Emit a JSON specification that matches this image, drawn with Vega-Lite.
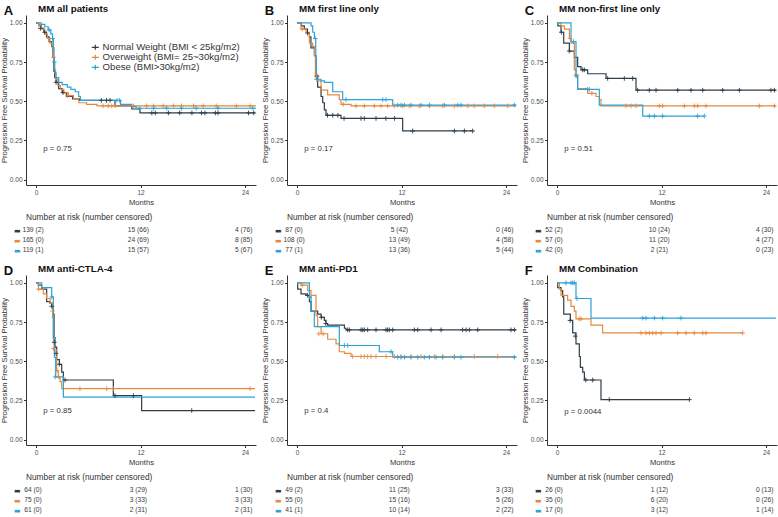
{
"$schema":"https://vega.github.io/schema/vega-lite/v6.json",
"padding":{"left":0,"top":4,"right":0,"bottom":0},
"config":{"font":"Liberation Sans","view":{"stroke":null},
"axis":{"labelFontSize":6.5,"labelColor":"#4d4d4d","titleFontSize":7.6,"titleFontWeight":"normal","titleColor":"#333","domainColor":"#333","tickColor":"#333","tickSize":2.5,"grid":false,"labelPadding":1.5},
"axisY":{"titlePadding":0.5},"axisX":{"titlePadding":2.5},
"title":{"fontSize":9.8,"fontWeight":"bold","anchor":"start","color":"#111"}},
"datasets":{
"km":[
{"p":"A","g":"N","t":0,"s":1},{"p":"A","g":"N","t":0.3,"s":0.985},{"p":"A","g":"N","t":0.6,"s":0.965},{"p":"A","g":"N","t":0.9,"s":0.94},{"p":"A","g":"N","t":1.2,"s":0.91},{"p":"A","g":"N","t":1.5,"s":0.88},{"p":"A","g":"N","t":1.8,"s":0.85},{"p":"A","g":"N","t":1.95,"s":0.78},{"p":"A","g":"N","t":2.05,"s":0.69},{"p":"A","g":"N","t":2.15,"s":0.65},{"p":"A","g":"N","t":2.3,"s":0.62},{"p":"A","g":"N","t":2.6,"s":0.58},{"p":"A","g":"N","t":3.0,"s":0.555},{"p":"A","g":"N","t":3.5,"s":0.53},{"p":"A","g":"N","t":4.2,"s":0.515},{"p":"A","g":"N","t":5.0,"s":0.505},{"p":"A","g":"N","t":9.07,"s":0.47},{"p":"A","g":"N","t":11.0,"s":0.45},{"p":"A","g":"N","t":11.94,"s":0.425},{"p":"A","g":"N","t":25.15,"s":0.425},
{"p":"A","g":"O","t":0,"s":1},{"p":"A","g":"O","t":0.3,"s":0.98},{"p":"A","g":"O","t":0.6,"s":0.96},{"p":"A","g":"O","t":1.0,"s":0.93},{"p":"A","g":"O","t":1.3,"s":0.9},{"p":"A","g":"O","t":1.6,"s":0.87},{"p":"A","g":"O","t":1.85,"s":0.84},{"p":"A","g":"O","t":2.0,"s":0.78},{"p":"A","g":"O","t":2.1,"s":0.7},{"p":"A","g":"O","t":2.25,"s":0.64},{"p":"A","g":"O","t":2.5,"s":0.6},{"p":"A","g":"O","t":2.8,"s":0.575},{"p":"A","g":"O","t":3.2,"s":0.555},{"p":"A","g":"O","t":3.7,"s":0.535},{"p":"A","g":"O","t":4.3,"s":0.515},{"p":"A","g":"O","t":4.9,"s":0.49},{"p":"A","g":"O","t":5.8,"s":0.48},{"p":"A","g":"O","t":7.0,"s":0.47},{"p":"A","g":"O","t":25.25,"s":0.47},
{"p":"A","g":"B","t":0,"s":1},{"p":"A","g":"B","t":0.6,"s":0.99},{"p":"A","g":"B","t":1.0,"s":0.975},{"p":"A","g":"B","t":1.4,"s":0.955},{"p":"A","g":"B","t":1.7,"s":0.93},{"p":"A","g":"B","t":1.9,"s":0.9},{"p":"A","g":"B","t":2.0,"s":0.84},{"p":"A","g":"B","t":2.07,"s":0.75},{"p":"A","g":"B","t":2.15,"s":0.68},{"p":"A","g":"B","t":2.3,"s":0.65},{"p":"A","g":"B","t":2.6,"s":0.62},{"p":"A","g":"B","t":3.0,"s":0.605},{"p":"A","g":"B","t":3.6,"s":0.59},{"p":"A","g":"B","t":4.0,"s":0.575},{"p":"A","g":"B","t":4.5,"s":0.56},{"p":"A","g":"B","t":4.9,"s":0.53},{"p":"A","g":"B","t":5.1,"s":0.505},{"p":"A","g":"B","t":9.7,"s":0.48},{"p":"A","g":"B","t":11.0,"s":0.465},{"p":"A","g":"B","t":11.5,"s":0.455},{"p":"A","g":"B","t":25.25,"s":0.455},
{"p":"B","g":"N","t":0,"s":1},{"p":"B","g":"N","t":0.5,"s":0.98},{"p":"B","g":"N","t":0.84,"s":0.96},{"p":"B","g":"N","t":1.2,"s":0.935},{"p":"B","g":"N","t":1.42,"s":0.91},{"p":"B","g":"N","t":1.6,"s":0.84},{"p":"B","g":"N","t":2.0,"s":0.79},{"p":"B","g":"N","t":2.18,"s":0.66},{"p":"B","g":"N","t":2.37,"s":0.59},{"p":"B","g":"N","t":2.76,"s":0.53},{"p":"B","g":"N","t":2.95,"s":0.49},{"p":"B","g":"N","t":3.14,"s":0.445},{"p":"B","g":"N","t":3.33,"s":0.41},{"p":"B","g":"N","t":5.05,"s":0.39},{"p":"B","g":"N","t":12.13,"s":0.31},{"p":"B","g":"N","t":20.2,"s":0.31},
{"p":"B","g":"O","t":0,"s":1},{"p":"B","g":"O","t":0.46,"s":0.96},{"p":"B","g":"O","t":1.03,"s":0.94},{"p":"B","g":"O","t":1.42,"s":0.87},{"p":"B","g":"O","t":1.8,"s":0.85},{"p":"B","g":"O","t":2.0,"s":0.79},{"p":"B","g":"O","t":2.11,"s":0.66},{"p":"B","g":"O","t":2.37,"s":0.63},{"p":"B","g":"O","t":2.76,"s":0.57},{"p":"B","g":"O","t":3.52,"s":0.54},{"p":"B","g":"O","t":4.86,"s":0.51},{"p":"B","g":"O","t":5.05,"s":0.48},{"p":"B","g":"O","t":6.2,"s":0.47},{"p":"B","g":"O","t":25.15,"s":0.47},
{"p":"B","g":"B","t":0,"s":1},{"p":"B","g":"B","t":1.61,"s":0.98},{"p":"B","g":"B","t":1.8,"s":0.94},{"p":"B","g":"B","t":1.99,"s":0.9},{"p":"B","g":"B","t":2.15,"s":0.79},{"p":"B","g":"B","t":2.22,"s":0.64},{"p":"B","g":"B","t":2.76,"s":0.63},{"p":"B","g":"B","t":3.14,"s":0.62},{"p":"B","g":"B","t":4.1,"s":0.56},{"p":"B","g":"B","t":5.24,"s":0.51},{"p":"B","g":"B","t":10.99,"s":0.475},{"p":"B","g":"B","t":25.15,"s":0.475},
{"p":"C","g":"N","t":0,"s":1},{"p":"C","g":"N","t":0.1,"s":0.98},{"p":"C","g":"N","t":0.46,"s":0.94},{"p":"C","g":"N","t":0.77,"s":0.87},{"p":"C","g":"N","t":1.42,"s":0.82},{"p":"C","g":"N","t":1.99,"s":0.78},{"p":"C","g":"N","t":2.37,"s":0.72},{"p":"C","g":"N","t":2.76,"s":0.7},{"p":"C","g":"N","t":3.52,"s":0.675},{"p":"C","g":"N","t":5.63,"s":0.645},{"p":"C","g":"N","t":9.07,"s":0.57},{"p":"C","g":"N","t":25.15,"s":0.57},
{"p":"C","g":"O","t":0,"s":1},{"p":"C","g":"O","t":0.46,"s":0.98},{"p":"C","g":"O","t":0.84,"s":0.96},{"p":"C","g":"O","t":1.42,"s":0.9},{"p":"C","g":"O","t":1.61,"s":0.87},{"p":"C","g":"O","t":1.99,"s":0.7},{"p":"C","g":"O","t":2.18,"s":0.67},{"p":"C","g":"O","t":2.37,"s":0.58},{"p":"C","g":"O","t":3.52,"s":0.55},{"p":"C","g":"O","t":4.48,"s":0.53},{"p":"C","g":"O","t":4.86,"s":0.51},{"p":"C","g":"O","t":5.05,"s":0.47},{"p":"C","g":"O","t":25.15,"s":0.47},
{"p":"C","g":"B","t":0,"s":1},{"p":"C","g":"B","t":1.61,"s":0.88},{"p":"C","g":"B","t":2.18,"s":0.66},{"p":"C","g":"B","t":2.37,"s":0.575},{"p":"C","g":"B","t":4.86,"s":0.475},{"p":"C","g":"B","t":9.84,"s":0.405},{"p":"C","g":"B","t":16.92,"s":0.405},
{"p":"D","g":"N","t":0,"s":1},{"p":"D","g":"N","t":0.27,"s":0.985},{"p":"D","g":"N","t":0.65,"s":0.96},{"p":"D","g":"N","t":1.22,"s":0.88},{"p":"D","g":"N","t":1.61,"s":0.87},{"p":"D","g":"N","t":1.8,"s":0.85},{"p":"D","g":"N","t":1.99,"s":0.8},{"p":"D","g":"N","t":2.07,"s":0.65},{"p":"D","g":"N","t":2.18,"s":0.59},{"p":"D","g":"N","t":2.37,"s":0.51},{"p":"D","g":"N","t":2.68,"s":0.48},{"p":"D","g":"N","t":2.95,"s":0.43},{"p":"D","g":"N","t":3.14,"s":0.38},{"p":"D","g":"N","t":8.88,"s":0.28},{"p":"D","g":"N","t":12.13,"s":0.185},{"p":"D","g":"N","t":25.15,"s":0.185},
{"p":"D","g":"O","t":0,"s":1},{"p":"D","g":"O","t":0.27,"s":0.96},{"p":"D","g":"O","t":0.84,"s":0.93},{"p":"D","g":"O","t":1.22,"s":0.9},{"p":"D","g":"O","t":1.61,"s":0.87},{"p":"D","g":"O","t":1.91,"s":0.78},{"p":"D","g":"O","t":1.99,"s":0.63},{"p":"D","g":"O","t":2.11,"s":0.57},{"p":"D","g":"O","t":2.37,"s":0.44},{"p":"D","g":"O","t":2.56,"s":0.4},{"p":"D","g":"O","t":2.76,"s":0.37},{"p":"D","g":"O","t":2.95,"s":0.325},{"p":"D","g":"O","t":25.15,"s":0.325},
{"p":"D","g":"B","t":0,"s":1},{"p":"D","g":"B","t":0.65,"s":0.97},{"p":"D","g":"B","t":1.8,"s":0.91},{"p":"D","g":"B","t":1.99,"s":0.65},{"p":"D","g":"B","t":2.11,"s":0.525},{"p":"D","g":"B","t":2.26,"s":0.4},{"p":"D","g":"B","t":3.14,"s":0.27},{"p":"D","g":"B","t":25.15,"s":0.27},
{"p":"E","g":"N","t":0,"s":1},{"p":"E","g":"N","t":0.08,"s":0.96},{"p":"E","g":"N","t":0.46,"s":0.93},{"p":"E","g":"N","t":1.03,"s":0.92},{"p":"E","g":"N","t":1.42,"s":0.88},{"p":"E","g":"N","t":1.61,"s":0.82},{"p":"E","g":"N","t":2.37,"s":0.8},{"p":"E","g":"N","t":2.76,"s":0.78},{"p":"E","g":"N","t":3.14,"s":0.76},{"p":"E","g":"N","t":3.33,"s":0.74},{"p":"E","g":"N","t":3.52,"s":0.73},{"p":"E","g":"N","t":5.44,"s":0.71},{"p":"E","g":"N","t":5.63,"s":0.7},{"p":"E","g":"N","t":25.15,"s":0.7},
{"p":"E","g":"O","t":0,"s":1},{"p":"E","g":"O","t":0.46,"s":0.985},{"p":"E","g":"O","t":1.22,"s":0.95},{"p":"E","g":"O","t":1.61,"s":0.92},{"p":"E","g":"O","t":2.18,"s":0.79},{"p":"E","g":"O","t":2.37,"s":0.72},{"p":"E","g":"O","t":2.76,"s":0.675},{"p":"E","g":"O","t":3.52,"s":0.64},{"p":"E","g":"O","t":4.48,"s":0.61},{"p":"E","g":"O","t":4.86,"s":0.56},{"p":"E","g":"O","t":5.44,"s":0.55},{"p":"E","g":"O","t":6.2,"s":0.53},{"p":"E","g":"O","t":25.15,"s":0.53},
{"p":"E","g":"B","t":0,"s":1},{"p":"E","g":"B","t":1.42,"s":0.91},{"p":"E","g":"B","t":1.61,"s":0.82},{"p":"E","g":"B","t":1.99,"s":0.72},{"p":"E","g":"B","t":4.86,"s":0.6},{"p":"E","g":"B","t":9.45,"s":0.56},{"p":"E","g":"B","t":10.99,"s":0.525},{"p":"E","g":"B","t":25.15,"s":0.525},
{"p":"F","g":"N","t":0,"s":1},{"p":"F","g":"N","t":0.08,"s":0.97},{"p":"F","g":"N","t":0.46,"s":0.95},{"p":"F","g":"N","t":0.65,"s":0.91},{"p":"F","g":"N","t":0.77,"s":0.8},{"p":"F","g":"N","t":1.53,"s":0.76},{"p":"F","g":"N","t":1.8,"s":0.68},{"p":"F","g":"N","t":2.18,"s":0.61},{"p":"F","g":"N","t":2.56,"s":0.53},{"p":"F","g":"N","t":2.68,"s":0.46},{"p":"F","g":"N","t":2.95,"s":0.43},{"p":"F","g":"N","t":3.14,"s":0.38},{"p":"F","g":"N","t":5.05,"s":0.255},{"p":"F","g":"N","t":15.2,"s":0.255},
{"p":"F","g":"O","t":0,"s":1},{"p":"F","g":"O","t":0.27,"s":0.96},{"p":"F","g":"O","t":0.46,"s":0.92},{"p":"F","g":"O","t":1.22,"s":0.89},{"p":"F","g":"O","t":1.61,"s":0.85},{"p":"F","g":"O","t":1.99,"s":0.82},{"p":"F","g":"O","t":2.18,"s":0.77},{"p":"F","g":"O","t":3.9,"s":0.73},{"p":"F","g":"O","t":5.24,"s":0.68},{"p":"F","g":"O","t":21.32,"s":0.68},
{"p":"F","g":"B","t":0,"s":1},{"p":"F","g":"B","t":2.18,"s":0.9},{"p":"F","g":"B","t":3.9,"s":0.775},{"p":"F","g":"B","t":25.15,"s":0.775}
],
"cens":[
{"p":"A","g":"N","t":0.5,"s":0.965},{"p":"A","g":"N","t":1.0,"s":0.94},{"p":"A","g":"N","t":2.3,"s":0.62},{"p":"A","g":"N","t":3.1,"s":0.555},{"p":"A","g":"N","t":7.5,"s":0.505},{"p":"A","g":"N","t":8.1,"s":0.505},{"p":"A","g":"N","t":8.5,"s":0.505},{"p":"A","g":"N","t":13.3,"s":0.425},{"p":"A","g":"N","t":13.7,"s":0.425},{"p":"A","g":"N","t":15.2,"s":0.425},{"p":"A","g":"N","t":16.5,"s":0.425},{"p":"A","g":"N","t":17.9,"s":0.425},{"p":"A","g":"N","t":19.0,"s":0.425},{"p":"A","g":"N","t":19.4,"s":0.425},{"p":"A","g":"N","t":20.6,"s":0.425},{"p":"A","g":"N","t":20.9,"s":0.425},{"p":"A","g":"N","t":24.4,"s":0.425},{"p":"A","g":"N","t":25.0,"s":0.425},
{"p":"A","g":"O","t":2.0,"s":0.78},{"p":"A","g":"O","t":3.6,"s":0.535},{"p":"A","g":"O","t":7.7,"s":0.47},{"p":"A","g":"O","t":8.3,"s":0.47},{"p":"A","g":"O","t":8.7,"s":0.47},{"p":"A","g":"O","t":9.1,"s":0.47},{"p":"A","g":"O","t":11.2,"s":0.47},{"p":"A","g":"O","t":12.7,"s":0.47},{"p":"A","g":"O","t":13.5,"s":0.47},{"p":"A","g":"O","t":14.6,"s":0.47},{"p":"A","g":"O","t":15.8,"s":0.47},{"p":"A","g":"O","t":16.7,"s":0.47},{"p":"A","g":"O","t":18.1,"s":0.47},{"p":"A","g":"O","t":19.2,"s":0.47},{"p":"A","g":"O","t":20.7,"s":0.47},{"p":"A","g":"O","t":23.0,"s":0.47},{"p":"A","g":"O","t":24.6,"s":0.47},
{"p":"A","g":"B","t":1.5,"s":0.955},{"p":"A","g":"B","t":1.9,"s":0.9},{"p":"A","g":"B","t":2.1,"s":0.75},{"p":"A","g":"B","t":9.3,"s":0.505},{"p":"A","g":"B","t":9.6,"s":0.505},{"p":"A","g":"B","t":11.9,"s":0.455},{"p":"A","g":"B","t":13.5,"s":0.455},{"p":"A","g":"B","t":15.0,"s":0.455},{"p":"A","g":"B","t":16.7,"s":0.455},{"p":"A","g":"B","t":18.4,"s":0.455},{"p":"A","g":"B","t":20.9,"s":0.455},{"p":"A","g":"B","t":24.9,"s":0.455},
{"p":"B","g":"N","t":1.2,"s":0.935},{"p":"B","g":"N","t":2.3,"s":0.66},{"p":"B","g":"N","t":3.5,"s":0.41},{"p":"B","g":"N","t":4.1,"s":0.41},{"p":"B","g":"N","t":4.7,"s":0.41},{"p":"B","g":"N","t":5.4,"s":0.39},{"p":"B","g":"N","t":7.35,"s":0.39},{"p":"B","g":"N","t":7.73,"s":0.39},{"p":"B","g":"N","t":9.07,"s":0.39},{"p":"B","g":"N","t":10.2,"s":0.39},{"p":"B","g":"N","t":11.2,"s":0.39},{"p":"B","g":"N","t":13.28,"s":0.31},{"p":"B","g":"N","t":18.07,"s":0.31},{"p":"B","g":"N","t":19.22,"s":0.31},{"p":"B","g":"N","t":20.17,"s":0.31},
{"p":"B","g":"O","t":0.6,"s":0.96},{"p":"B","g":"O","t":2.2,"s":0.66},{"p":"B","g":"O","t":5.3,"s":0.48},{"p":"B","g":"O","t":6.78,"s":0.47},{"p":"B","g":"O","t":7.73,"s":0.47},{"p":"B","g":"O","t":8.88,"s":0.47},{"p":"B","g":"O","t":9.65,"s":0.47},{"p":"B","g":"O","t":10.41,"s":0.47},{"p":"B","g":"O","t":11.18,"s":0.47},{"p":"B","g":"O","t":12.13,"s":0.47},{"p":"B","g":"O","t":12.9,"s":0.47},{"p":"B","g":"O","t":14.05,"s":0.47},{"p":"B","g":"O","t":15.2,"s":0.47},{"p":"B","g":"O","t":16.73,"s":0.47},{"p":"B","g":"O","t":18.07,"s":0.47},{"p":"B","g":"O","t":19.6,"s":0.47},{"p":"B","g":"O","t":20.36,"s":0.47},{"p":"B","g":"O","t":21.51,"s":0.47},{"p":"B","g":"O","t":22.66,"s":0.47},{"p":"B","g":"O","t":24.19,"s":0.47},
{"p":"B","g":"B","t":2.1,"s":0.9},{"p":"B","g":"B","t":2.25,"s":0.64},{"p":"B","g":"B","t":5.63,"s":0.51},{"p":"B","g":"B","t":9.84,"s":0.51},{"p":"B","g":"B","t":10.22,"s":0.51},{"p":"B","g":"B","t":11.56,"s":0.475},{"p":"B","g":"B","t":11.94,"s":0.475},{"p":"B","g":"B","t":12.33,"s":0.475},{"p":"B","g":"B","t":13.09,"s":0.475},{"p":"B","g":"B","t":14.24,"s":0.475},{"p":"B","g":"B","t":15.2,"s":0.475},{"p":"B","g":"B","t":16.92,"s":0.475},{"p":"B","g":"B","t":18.45,"s":0.475},{"p":"B","g":"B","t":18.83,"s":0.475},{"p":"B","g":"B","t":24.96,"s":0.475},
{"p":"C","g":"N","t":0.5,"s":0.94},{"p":"C","g":"N","t":1.4,"s":0.82},{"p":"C","g":"N","t":2.95,"s":0.7},{"p":"C","g":"N","t":3.14,"s":0.7},{"p":"C","g":"N","t":5.82,"s":0.645},{"p":"C","g":"N","t":7.73,"s":0.645},{"p":"C","g":"N","t":8.69,"s":0.645},{"p":"C","g":"N","t":9.26,"s":0.57},{"p":"C","g":"N","t":10.6,"s":0.57},{"p":"C","g":"N","t":11.37,"s":0.57},{"p":"C","g":"N","t":13.86,"s":0.57},{"p":"C","g":"N","t":15.39,"s":0.57},{"p":"C","g":"N","t":16.73,"s":0.57},{"p":"C","g":"N","t":19.02,"s":0.57},{"p":"C","g":"N","t":20.94,"s":0.57},{"p":"C","g":"N","t":24.57,"s":0.57},{"p":"C","g":"N","t":24.96,"s":0.57},
{"p":"C","g":"O","t":1.5,"s":0.9},{"p":"C","g":"O","t":2.2,"s":0.67},{"p":"C","g":"O","t":4.0,"s":0.55},{"p":"C","g":"O","t":7.92,"s":0.47},{"p":"C","g":"O","t":8.5,"s":0.47},{"p":"C","g":"O","t":9.07,"s":0.47},{"p":"C","g":"O","t":11.75,"s":0.47},{"p":"C","g":"O","t":12.13,"s":0.47},{"p":"C","g":"O","t":14.62,"s":0.47},{"p":"C","g":"O","t":15.77,"s":0.47},{"p":"C","g":"O","t":16.15,"s":0.47},{"p":"C","g":"O","t":17.11,"s":0.47},{"p":"C","g":"O","t":23.23,"s":0.47},{"p":"C","g":"O","t":24.96,"s":0.47},
{"p":"C","g":"B","t":1.9,"s":0.88},{"p":"C","g":"B","t":2.2,"s":0.66},{"p":"C","g":"B","t":3.5,"s":0.575},{"p":"C","g":"B","t":3.71,"s":0.575},{"p":"C","g":"B","t":10.6,"s":0.405},{"p":"C","g":"B","t":11.18,"s":0.405},{"p":"C","g":"B","t":12.13,"s":0.405},{"p":"C","g":"B","t":16.15,"s":0.405},{"p":"C","g":"B","t":16.92,"s":0.405},
{"p":"D","g":"N","t":1.8,"s":0.85},{"p":"D","g":"N","t":2.1,"s":0.62},{"p":"D","g":"N","t":2.3,"s":0.55},{"p":"D","g":"N","t":2.68,"s":0.48},{"p":"D","g":"N","t":3.33,"s":0.38},{"p":"D","g":"N","t":9.07,"s":0.28},{"p":"D","g":"N","t":11.18,"s":0.28},{"p":"D","g":"N","t":17.88,"s":0.185},
{"p":"D","g":"O","t":0.3,"s":0.96},{"p":"D","g":"O","t":1.9,"s":0.82},{"p":"D","g":"O","t":2.0,"s":0.58},{"p":"D","g":"O","t":2.4,"s":0.44},{"p":"D","g":"O","t":2.6,"s":0.4},{"p":"D","g":"O","t":5.05,"s":0.325},{"p":"D","g":"O","t":8.11,"s":0.325},{"p":"D","g":"O","t":8.88,"s":0.325},{"p":"D","g":"O","t":24.57,"s":0.325},
{"p":"D","g":"B","t":1.8,"s":0.91},{"p":"D","g":"B","t":2.2,"s":0.4},
{"p":"E","g":"N","t":1.2,"s":0.92},{"p":"E","g":"N","t":2.8,"s":0.78},{"p":"E","g":"N","t":3.3,"s":0.74},{"p":"E","g":"N","t":5.82,"s":0.7},{"p":"E","g":"N","t":6.01,"s":0.7},{"p":"E","g":"N","t":7.35,"s":0.7},{"p":"E","g":"N","t":7.54,"s":0.7},{"p":"E","g":"N","t":7.73,"s":0.7},{"p":"E","g":"N","t":8.11,"s":0.7},{"p":"E","g":"N","t":9.07,"s":0.7},{"p":"E","g":"N","t":10.22,"s":0.7},{"p":"E","g":"N","t":10.41,"s":0.7},{"p":"E","g":"N","t":10.6,"s":0.7},{"p":"E","g":"N","t":10.99,"s":0.7},{"p":"E","g":"N","t":13.47,"s":0.7},{"p":"E","g":"N","t":13.86,"s":0.7},{"p":"E","g":"N","t":15.39,"s":0.7},{"p":"E","g":"N","t":16.54,"s":0.7},{"p":"E","g":"N","t":19.02,"s":0.7},{"p":"E","g":"N","t":19.41,"s":0.7},{"p":"E","g":"N","t":19.79,"s":0.7},{"p":"E","g":"N","t":20.75,"s":0.7},{"p":"E","g":"N","t":24.57,"s":0.7},{"p":"E","g":"N","t":24.96,"s":0.7},
{"p":"E","g":"O","t":0.6,"s":0.985},{"p":"E","g":"O","t":2.5,"s":0.675},{"p":"E","g":"O","t":3.0,"s":0.675},{"p":"E","g":"O","t":6.39,"s":0.53},{"p":"E","g":"O","t":7.35,"s":0.53},{"p":"E","g":"O","t":7.73,"s":0.53},{"p":"E","g":"O","t":8.11,"s":0.53},{"p":"E","g":"O","t":8.5,"s":0.53},{"p":"E","g":"O","t":9.07,"s":0.53},{"p":"E","g":"O","t":10.22,"s":0.53},{"p":"E","g":"O","t":11.18,"s":0.53},{"p":"E","g":"O","t":11.94,"s":0.53},{"p":"E","g":"O","t":13.09,"s":0.53},{"p":"E","g":"O","t":14.24,"s":0.53},{"p":"E","g":"O","t":15.77,"s":0.53},{"p":"E","g":"O","t":16.73,"s":0.53},{"p":"E","g":"O","t":18.07,"s":0.53},{"p":"E","g":"O","t":20.36,"s":0.53},{"p":"E","g":"O","t":23.04,"s":0.53},
{"p":"E","g":"B","t":1.45,"s":0.91},{"p":"E","g":"B","t":5.44,"s":0.6},{"p":"E","g":"B","t":5.82,"s":0.6},{"p":"E","g":"B","t":10.79,"s":0.56},{"p":"E","g":"B","t":11.56,"s":0.525},{"p":"E","g":"B","t":11.94,"s":0.525},{"p":"E","g":"B","t":12.33,"s":0.525},{"p":"E","g":"B","t":13.09,"s":0.525},{"p":"E","g":"B","t":13.86,"s":0.525},{"p":"E","g":"B","t":14.62,"s":0.525},{"p":"E","g":"B","t":15.2,"s":0.525},{"p":"E","g":"B","t":15.96,"s":0.525},{"p":"E","g":"B","t":16.73,"s":0.525},{"p":"E","g":"B","t":18.07,"s":0.525},{"p":"E","g":"B","t":18.83,"s":0.525},{"p":"E","g":"B","t":24.96,"s":0.525},
{"p":"F","g":"N","t":1.5,"s":0.76},{"p":"F","g":"N","t":2.1,"s":0.66},{"p":"F","g":"N","t":3.3,"s":0.38},{"p":"F","g":"N","t":4.1,"s":0.38},{"p":"F","g":"N","t":6.0,"s":0.255},{"p":"F","g":"N","t":15.2,"s":0.255},
{"p":"F","g":"O","t":2.56,"s":0.77},{"p":"F","g":"O","t":2.76,"s":0.77},{"p":"F","g":"O","t":9.65,"s":0.68},{"p":"F","g":"O","t":10.22,"s":0.68},{"p":"F","g":"O","t":10.6,"s":0.68},{"p":"F","g":"O","t":10.99,"s":0.68},{"p":"F","g":"O","t":11.37,"s":0.68},{"p":"F","g":"O","t":11.94,"s":0.68},{"p":"F","g":"O","t":13.86,"s":0.68},{"p":"F","g":"O","t":14.81,"s":0.68},{"p":"F","g":"O","t":15.77,"s":0.68},{"p":"F","g":"O","t":16.73,"s":0.68},{"p":"F","g":"O","t":17.11,"s":0.68},{"p":"F","g":"O","t":21.32,"s":0.68},
{"p":"F","g":"B","t":1.03,"s":1},{"p":"F","g":"B","t":1.61,"s":1},{"p":"F","g":"B","t":1.8,"s":1},{"p":"F","g":"B","t":1.99,"s":1},{"p":"F","g":"B","t":2.3,"s":0.9},{"p":"F","g":"B","t":9.84,"s":0.775},{"p":"F","g":"B","t":10.22,"s":0.775},{"p":"F","g":"B","t":11.18,"s":0.775},{"p":"F","g":"B","t":12.13,"s":0.775},{"p":"F","g":"B","t":14.24,"s":0.775}
],
"risk":[
{"p":"A","g":"N","t":0,"r":"139 (2)"},{"p":"A","g":"N","t":12,"r":"15 (66)"},{"p":"A","g":"N","t":24,"r":"4 (76)"},
{"p":"A","g":"O","t":0,"r":"165 (0)"},{"p":"A","g":"O","t":12,"r":"24 (69)"},{"p":"A","g":"O","t":24,"r":"8 (85)"},
{"p":"A","g":"B","t":0,"r":"119 (1)"},{"p":"A","g":"B","t":12,"r":"15 (57)"},{"p":"A","g":"B","t":24,"r":"5 (67)"},
{"p":"B","g":"N","t":0,"r":"87 (0)"},{"p":"B","g":"N","t":12,"r":"5 (42)"},{"p":"B","g":"N","t":24,"r":"0 (46)"},
{"p":"B","g":"O","t":0,"r":"108 (0)"},{"p":"B","g":"O","t":12,"r":"13 (49)"},{"p":"B","g":"O","t":24,"r":"4 (58)"},
{"p":"B","g":"B","t":0,"r":"77 (1)"},{"p":"B","g":"B","t":12,"r":"13 (36)"},{"p":"B","g":"B","t":24,"r":"5 (44)"},
{"p":"C","g":"N","t":0,"r":"52 (2)"},{"p":"C","g":"N","t":12,"r":"10 (24)"},{"p":"C","g":"N","t":24,"r":"4 (30)"},
{"p":"C","g":"O","t":0,"r":"57 (0)"},{"p":"C","g":"O","t":12,"r":"11 (20)"},{"p":"C","g":"O","t":24,"r":"4 (27)"},
{"p":"C","g":"B","t":0,"r":"42 (0)"},{"p":"C","g":"B","t":12,"r":"2 (21)"},{"p":"C","g":"B","t":24,"r":"0 (23)"},
{"p":"D","g":"N","t":0,"r":"64 (0)"},{"p":"D","g":"N","t":12,"r":"3 (29)"},{"p":"D","g":"N","t":24,"r":"1 (30)"},
{"p":"D","g":"O","t":0,"r":"75 (0)"},{"p":"D","g":"O","t":12,"r":"3 (33)"},{"p":"D","g":"O","t":24,"r":"3 (33)"},
{"p":"D","g":"B","t":0,"r":"61 (0)"},{"p":"D","g":"B","t":12,"r":"2 (31)"},{"p":"D","g":"B","t":24,"r":"2 (31)"},
{"p":"E","g":"N","t":0,"r":"49 (2)"},{"p":"E","g":"N","t":12,"r":"11 (25)"},{"p":"E","g":"N","t":24,"r":"3 (33)"},
{"p":"E","g":"O","t":0,"r":"55 (0)"},{"p":"E","g":"O","t":12,"r":"15 (16)"},{"p":"E","g":"O","t":24,"r":"5 (26)"},
{"p":"E","g":"B","t":0,"r":"41 (1)"},{"p":"E","g":"B","t":12,"r":"10 (14)"},{"p":"E","g":"B","t":24,"r":"2 (22)"},
{"p":"F","g":"N","t":0,"r":"26 (0)"},{"p":"F","g":"N","t":12,"r":"1 (12)"},{"p":"F","g":"N","t":24,"r":"0 (13)"},
{"p":"F","g":"O","t":0,"r":"35 (0)"},{"p":"F","g":"O","t":12,"r":"6 (20)"},{"p":"F","g":"O","t":24,"r":"0 (26)"},
{"p":"F","g":"B","t":0,"r":"17 (0)"},{"p":"F","g":"B","t":12,"r":"3 (12)"},{"p":"F","g":"B","t":24,"r":"1 (14)"}
]
},
"columns":3,
"spacing":{"row":9,"column":2},
"concat":[
{"title":{"text":"A","fontSize":13,"frame":"bounds","offset":-13.5,"dx":3},"spacing":6,"vconcat":[
{"width":230,"height":170,"title":{"text":"MM all patients","frame":"group","dx":12,"offset":1},
"layer":[
{"data":{"name":"km"},"transform":[{"filter":"datum.p=='A'"}],"mark":{"type":"line","interpolate":"step-after","strokeWidth":1.2},
"encoding":{"x":{"field":"t","type":"quantitative","scale":{"domain":[-1.15,25.26],"nice":false,"zero":false},"axis":{"values":[0,12,24],"title":"Months"}},
"y":{"field":"s","type":"quantitative","scale":{"domain":[-0.035,1.05],"nice":false,"zero":false},"axis":{"values":[0,0.25,0.5,0.75,1],"format":".2f","title":"Progression Free Survival Probability"}},
"color":{"field":"g","type":"nominal","scale":{"domain":["N","O","B"],"range":["#2E3D48","#E38A3F","#2BA3D9"]},
"legend":{"orient":"none","legendX":64.5,"legendY":27.5,"title":null,"labelFontSize":9.6,"labelColor":"#333","symbolType":"M-1,0H1M0,-0.7V0.7","symbolSize":49,"symbolStrokeWidth":1.2,"rowPadding":-3.5,"labelOffset":2.5,
"labelExpr":"datum.value=='N'?'Normal Weight (BMI < 25kg/m2)':datum.value=='O'?'Overweight (BMI= 25~30kg/m2)':'Obese (BMI>30kg/m2)'"}}}},
{"data":{"name":"cens"},"transform":[{"filter":"datum.p=='A'"}],"mark":{"type":"point","shape":"M-1,0H1M0,-1V1","size":22,"strokeWidth":0.9,"filled":false,"opacity":1},
"encoding":{"x":{"field":"t","type":"quantitative"},"y":{"field":"s","type":"quantitative"},"color":{"field":"g","type":"nominal","legend":null}}},
{"data":{"values":[{"pv":"p = 0.75"}]},"mark":{"type":"text","align":"left","fontSize":7.8,"color":"#333"},"encoding":{"x":{"datum":0.84,"type":"quantitative"},"y":{"datum":0.195,"type":"quantitative"},"text":{"field":"pv"}}}
]},
{"width":230,"height":30,"title":{"text":"Number at risk (number censored)","fontSize":8.3,"fontWeight":"normal","color":"#333","frame":"group","offset":4},
"data":{"name":"risk"},"transform":[{"filter":"datum.p=='A'"}],"mark":{"type":"text","fontSize":6.7,"color":"#3a3a3a"},
"encoding":{"x":{"field":"t","type":"quantitative","scale":{"domain":[-0.8,25.4],"nice":false,"zero":false},"axis":null},
"y":{"field":"g","type":"nominal","scale":{"domain":["N","O","B"]},"axis":{"title":null,"domain":false,"ticks":false,"labelExpr":"'▬'","labelFont":"DejaVu Sans","labelFontSize":7,"labelPadding":6,"labelColor":{"condition":[{"test":"datum.value==='N'","value":"#2E3D48"},{"test":"datum.value==='O'","value":"#E38A3F"}],"value":"#2BA3D9"}}},
"text":{"field":"r"}}}
]},
{"title":{"text":"B","fontSize":13,"frame":"bounds","offset":-13.5,"dx":3},"spacing":6,"vconcat":[
{"width":230,"height":170,"title":{"text":"MM first line only","frame":"group","dx":12,"offset":1},
"layer":[
{"data":{"name":"km"},"transform":[{"filter":"datum.p=='B'"}],"mark":{"type":"line","interpolate":"step-after","strokeWidth":1.2},
"encoding":{"x":{"field":"t","type":"quantitative","scale":{"domain":[-1.15,25.26],"nice":false,"zero":false},"axis":{"values":[0,12,24],"title":"Months"}},
"y":{"field":"s","type":"quantitative","scale":{"domain":[-0.035,1.05],"nice":false,"zero":false},"axis":{"values":[0,0.25,0.5,0.75,1],"format":".2f","title":"Progression Free Survival Probability"}},
"color":{"field":"g","type":"nominal","legend":null}}},
{"data":{"name":"cens"},"transform":[{"filter":"datum.p=='B'"}],"mark":{"type":"point","shape":"M-1,0H1M0,-1V1","size":22,"strokeWidth":0.9,"filled":false,"opacity":1},
"encoding":{"x":{"field":"t","type":"quantitative"},"y":{"field":"s","type":"quantitative"},"color":{"field":"g","type":"nominal","legend":null}}},
{"data":{"values":[{"pv":"p = 0.17"}]},"mark":{"type":"text","align":"left","fontSize":7.8,"color":"#333"},"encoding":{"x":{"datum":0.84,"type":"quantitative"},"y":{"datum":0.195,"type":"quantitative"},"text":{"field":"pv"}}}
]},
{"width":230,"height":30,"title":{"text":"Number at risk (number censored)","fontSize":8.3,"fontWeight":"normal","color":"#333","frame":"group","offset":4},
"data":{"name":"risk"},"transform":[{"filter":"datum.p=='B'"}],"mark":{"type":"text","fontSize":6.7,"color":"#3a3a3a"},
"encoding":{"x":{"field":"t","type":"quantitative","scale":{"domain":[-0.8,25.4],"nice":false,"zero":false},"axis":null},
"y":{"field":"g","type":"nominal","scale":{"domain":["N","O","B"]},"axis":{"title":null,"domain":false,"ticks":false,"labelExpr":"'▬'","labelFont":"DejaVu Sans","labelFontSize":7,"labelPadding":6,"labelColor":{"condition":[{"test":"datum.value==='N'","value":"#2E3D48"},{"test":"datum.value==='O'","value":"#E38A3F"}],"value":"#2BA3D9"}}},
"text":{"field":"r"}}}
]},
{"title":{"text":"C","fontSize":13,"frame":"bounds","offset":-13.5,"dx":3},"spacing":6,"vconcat":[
{"width":230,"height":170,"title":{"text":"MM non-first line only","frame":"group","dx":12,"offset":1},
"layer":[
{"data":{"name":"km"},"transform":[{"filter":"datum.p=='C'"}],"mark":{"type":"line","interpolate":"step-after","strokeWidth":1.2},
"encoding":{"x":{"field":"t","type":"quantitative","scale":{"domain":[-1.15,25.26],"nice":false,"zero":false},"axis":{"values":[0,12,24],"title":"Months"}},
"y":{"field":"s","type":"quantitative","scale":{"domain":[-0.035,1.05],"nice":false,"zero":false},"axis":{"values":[0,0.25,0.5,0.75,1],"format":".2f","title":"Progression Free Survival Probability"}},
"color":{"field":"g","type":"nominal","legend":null}}},
{"data":{"name":"cens"},"transform":[{"filter":"datum.p=='C'"}],"mark":{"type":"point","shape":"M-1,0H1M0,-1V1","size":22,"strokeWidth":0.9,"filled":false,"opacity":1},
"encoding":{"x":{"field":"t","type":"quantitative"},"y":{"field":"s","type":"quantitative"},"color":{"field":"g","type":"nominal","legend":null}}},
{"data":{"values":[{"pv":"p = 0.51"}]},"mark":{"type":"text","align":"left","fontSize":7.8,"color":"#333"},"encoding":{"x":{"datum":0.84,"type":"quantitative"},"y":{"datum":0.195,"type":"quantitative"},"text":{"field":"pv"}}}
]},
{"width":230,"height":30,"title":{"text":"Number at risk (number censored)","fontSize":8.3,"fontWeight":"normal","color":"#333","frame":"group","offset":4},
"data":{"name":"risk"},"transform":[{"filter":"datum.p=='C'"}],"mark":{"type":"text","fontSize":6.7,"color":"#3a3a3a"},
"encoding":{"x":{"field":"t","type":"quantitative","scale":{"domain":[-0.8,25.4],"nice":false,"zero":false},"axis":null},
"y":{"field":"g","type":"nominal","scale":{"domain":["N","O","B"]},"axis":{"title":null,"domain":false,"ticks":false,"labelExpr":"'▬'","labelFont":"DejaVu Sans","labelFontSize":7,"labelPadding":6,"labelColor":{"condition":[{"test":"datum.value==='N'","value":"#2E3D48"},{"test":"datum.value==='O'","value":"#E38A3F"}],"value":"#2BA3D9"}}},
"text":{"field":"r"}}}
]},
{"title":{"text":"D","fontSize":13,"frame":"bounds","offset":-13.5,"dx":3},"spacing":6,"vconcat":[
{"width":230,"height":170,"title":{"text":"MM anti-CTLA-4","frame":"group","dx":12,"offset":1},
"layer":[
{"data":{"name":"km"},"transform":[{"filter":"datum.p=='D'"}],"mark":{"type":"line","interpolate":"step-after","strokeWidth":1.2},
"encoding":{"x":{"field":"t","type":"quantitative","scale":{"domain":[-1.15,25.26],"nice":false,"zero":false},"axis":{"values":[0,12,24],"title":"Months"}},
"y":{"field":"s","type":"quantitative","scale":{"domain":[-0.035,1.05],"nice":false,"zero":false},"axis":{"values":[0,0.25,0.5,0.75,1],"format":".2f","title":"Progression Free Survival Probability"}},
"color":{"field":"g","type":"nominal","legend":null}}},
{"data":{"name":"cens"},"transform":[{"filter":"datum.p=='D'"}],"mark":{"type":"point","shape":"M-1,0H1M0,-1V1","size":22,"strokeWidth":0.9,"filled":false,"opacity":1},
"encoding":{"x":{"field":"t","type":"quantitative"},"y":{"field":"s","type":"quantitative"},"color":{"field":"g","type":"nominal","legend":null}}},
{"data":{"values":[{"pv":"p = 0.85"}]},"mark":{"type":"text","align":"left","fontSize":7.8,"color":"#333"},"encoding":{"x":{"datum":0.84,"type":"quantitative"},"y":{"datum":0.185,"type":"quantitative"},"text":{"field":"pv"}}}
]},
{"width":230,"height":30,"title":{"text":"Number at risk (number censored)","fontSize":8.3,"fontWeight":"normal","color":"#333","frame":"group","offset":4},
"data":{"name":"risk"},"transform":[{"filter":"datum.p=='D'"}],"mark":{"type":"text","fontSize":6.7,"color":"#3a3a3a"},
"encoding":{"x":{"field":"t","type":"quantitative","scale":{"domain":[-0.8,25.4],"nice":false,"zero":false},"axis":null},
"y":{"field":"g","type":"nominal","scale":{"domain":["N","O","B"]},"axis":{"title":null,"domain":false,"ticks":false,"labelExpr":"'▬'","labelFont":"DejaVu Sans","labelFontSize":7,"labelPadding":6,"labelColor":{"condition":[{"test":"datum.value==='N'","value":"#2E3D48"},{"test":"datum.value==='O'","value":"#E38A3F"}],"value":"#2BA3D9"}}},
"text":{"field":"r"}}}
]},
{"title":{"text":"E","fontSize":13,"frame":"bounds","offset":-13.5,"dx":3},"spacing":6,"vconcat":[
{"width":230,"height":170,"title":{"text":"MM anti-PD1","frame":"group","dx":12,"offset":1},
"layer":[
{"data":{"name":"km"},"transform":[{"filter":"datum.p=='E'"}],"mark":{"type":"line","interpolate":"step-after","strokeWidth":1.2},
"encoding":{"x":{"field":"t","type":"quantitative","scale":{"domain":[-1.15,25.26],"nice":false,"zero":false},"axis":{"values":[0,12,24],"title":"Months"}},
"y":{"field":"s","type":"quantitative","scale":{"domain":[-0.035,1.05],"nice":false,"zero":false},"axis":{"values":[0,0.25,0.5,0.75,1],"format":".2f","title":"Progression Free Survival Probability"}},
"color":{"field":"g","type":"nominal","legend":null}}},
{"data":{"name":"cens"},"transform":[{"filter":"datum.p=='E'"}],"mark":{"type":"point","shape":"M-1,0H1M0,-1V1","size":22,"strokeWidth":0.9,"filled":false,"opacity":1},
"encoding":{"x":{"field":"t","type":"quantitative"},"y":{"field":"s","type":"quantitative"},"color":{"field":"g","type":"nominal","legend":null}}},
{"data":{"values":[{"pv":"p = 0.4"}]},"mark":{"type":"text","align":"left","fontSize":7.8,"color":"#333"},"encoding":{"x":{"datum":0.84,"type":"quantitative"},"y":{"datum":0.185,"type":"quantitative"},"text":{"field":"pv"}}}
]},
{"width":230,"height":30,"title":{"text":"Number at risk (number censored)","fontSize":8.3,"fontWeight":"normal","color":"#333","frame":"group","offset":4},
"data":{"name":"risk"},"transform":[{"filter":"datum.p=='E'"}],"mark":{"type":"text","fontSize":6.7,"color":"#3a3a3a"},
"encoding":{"x":{"field":"t","type":"quantitative","scale":{"domain":[-0.8,25.4],"nice":false,"zero":false},"axis":null},
"y":{"field":"g","type":"nominal","scale":{"domain":["N","O","B"]},"axis":{"title":null,"domain":false,"ticks":false,"labelExpr":"'▬'","labelFont":"DejaVu Sans","labelFontSize":7,"labelPadding":6,"labelColor":{"condition":[{"test":"datum.value==='N'","value":"#2E3D48"},{"test":"datum.value==='O'","value":"#E38A3F"}],"value":"#2BA3D9"}}},
"text":{"field":"r"}}}
]},
{"title":{"text":"F","fontSize":13,"frame":"bounds","offset":-13.5,"dx":3},"spacing":6,"vconcat":[
{"width":230,"height":170,"title":{"text":"MM Combination","frame":"group","dx":12,"offset":1},
"layer":[
{"data":{"name":"km"},"transform":[{"filter":"datum.p=='F'"}],"mark":{"type":"line","interpolate":"step-after","strokeWidth":1.2},
"encoding":{"x":{"field":"t","type":"quantitative","scale":{"domain":[-1.15,25.26],"nice":false,"zero":false},"axis":{"values":[0,12,24],"title":"Months"}},
"y":{"field":"s","type":"quantitative","scale":{"domain":[-0.035,1.05],"nice":false,"zero":false},"axis":{"values":[0,0.25,0.5,0.75,1],"format":".2f","title":"Progression Free Survival Probability"}},
"color":{"field":"g","type":"nominal","legend":null}}},
{"data":{"name":"cens"},"transform":[{"filter":"datum.p=='F'"}],"mark":{"type":"point","shape":"M-1,0H1M0,-1V1","size":22,"strokeWidth":0.9,"filled":false,"opacity":1},
"encoding":{"x":{"field":"t","type":"quantitative"},"y":{"field":"s","type":"quantitative"},"color":{"field":"g","type":"nominal","legend":null}}},
{"data":{"values":[{"pv":"p = 0.0044"}]},"mark":{"type":"text","align":"left","fontSize":7.8,"color":"#333"},"encoding":{"x":{"datum":0.84,"type":"quantitative"},"y":{"datum":0.175,"type":"quantitative"},"text":{"field":"pv"}}}
]},
{"width":230,"height":30,"title":{"text":"Number at risk (number censored)","fontSize":8.3,"fontWeight":"normal","color":"#333","frame":"group","offset":4},
"data":{"name":"risk"},"transform":[{"filter":"datum.p=='F'"}],"mark":{"type":"text","fontSize":6.7,"color":"#3a3a3a"},
"encoding":{"x":{"field":"t","type":"quantitative","scale":{"domain":[-0.8,25.4],"nice":false,"zero":false},"axis":null},
"y":{"field":"g","type":"nominal","scale":{"domain":["N","O","B"]},"axis":{"title":null,"domain":false,"ticks":false,"labelExpr":"'▬'","labelFont":"DejaVu Sans","labelFontSize":7,"labelPadding":6,"labelColor":{"condition":[{"test":"datum.value==='N'","value":"#2E3D48"},{"test":"datum.value==='O'","value":"#E38A3F"}],"value":"#2BA3D9"}}},
"text":{"field":"r"}}}
]}
]
}
